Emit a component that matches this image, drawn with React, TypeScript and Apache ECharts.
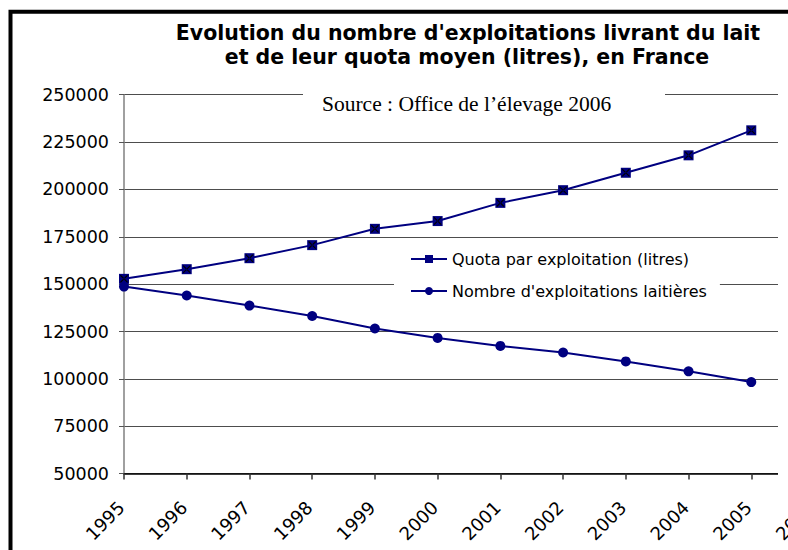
import React, { useEffect, useRef } from "react";
import * as echarts from "echarts";

const years = ["1995", "1996", "1997", "1998", "1999", "2000", "2001", "2002", "2003", "2004", "2005", "2006"];
const quotaParExploitation = [152800, 157900, 163700, 170600, 179200, 183300, 192900, 199600, 208800, 218000, 231200, null];
const nombreExploitations = [148700, 144000, 138700, 133200, 126600, 121600, 117400, 113900, 109200, 104000, 98300, null];
const yMin = 50000;
const yMax = 250000;
const yInterval = 25000;

const titleLines = [
  "Evolution du nombre d'exploitations livrant du lait",
  "et de leur quota moyen (litres), en France",
];
const sourceText = "Source : Office de l\u2019élevage 2006";
const seriesNames = ["Quota par exploitation (litres)", "Nombre d'exploitations laitières"];

const NAVY = "#000080";
const SANS = "DejaVu Sans";

export default function App() {
  const ref = useRef<HTMLDivElement>(null);
  useEffect(() => {
    if (!ref.current) return;
    const chart = echarts.init(ref.current, null, { renderer: "svg" });
    chart.setOption({
      animation: false,
      backgroundColor: "#fff",
      grid: {
        left: 124,
        top: 94.7,
        width: 690,
        height: 378.9,
        containLabel: false,
        outerBoundsMode: "none",
      },
      xAxis: {
        type: "category",
        data: years,
        boundaryGap: false,
        axisLine: { lineStyle: { color: "#000", width: 1.5 } },
        axisTick: { show: true, length: 6, alignWithLabel: true, lineStyle: { color: "#333", width: 1.5 } },
        axisLabel: {
          rotate: 45,
          margin: 28,
          padding: [0, 4, 0, 0],
          fontFamily: SANS,
          fontSize: 18,
          color: "#000",
          interval: 0,
          hideOverlap: false,
        },
        splitLine: { show: false },
      },
      yAxis: {
        type: "value",
        min: yMin,
        max: yMax,
        interval: yInterval,
        axisLine: { show: true, lineStyle: { color: "#808080", width: 1.5 } },
        axisTick: { show: true, length: 5, lineStyle: { color: "#555" } },
        axisLabel: {
          margin: 15,
          fontFamily: SANS,
          fontSize: 17.5,
          color: "#000",
          formatter: (v: number) => String(v),
        },
        splitLine: { show: true, lineStyle: { color: "#4d4d4d", width: 1 } },
      },
      legend: {
        data: seriesNames,
        orient: "vertical",
        left: 394,
        top: 242,
        padding: [8, 13, 4, 16],
        itemGap: 14,
        itemWidth: 36,
        itemHeight: 10,
        backgroundColor: "#fff",
        textStyle: { fontFamily: SANS, fontSize: 16, color: "#000", lineHeight: 18 },
      },
      series: [
        {
          name: seriesNames[0],
          type: "line",
          data: quotaParExploitation,
          symbol: "rect",
          symbolSize: 10,
          color: NAVY,
          itemStyle: { color: NAVY },
          lineStyle: { color: NAVY, width: 2 },
          z: 3,
        },
        {
          name: seriesNames[1],
          type: "line",
          data: nombreExploitations,
          symbol: "circle",
          symbolSize: 10,
          color: NAVY,
          itemStyle: { color: NAVY },
          lineStyle: { color: NAVY, width: 2 },
          z: 3,
        },
        {
          name: "quotaCross",
          type: "line",
          data: quotaParExploitation,
          symbol: "path://M0,1 L1,0 L10,9 L9,10 Z M9,0 L0,9 L1,10 L10,1 Z",
          symbolSize: 8,
          itemStyle: { color: "#000" },
          lineStyle: { width: 0, opacity: 0 },
          silent: true,
          z: 4,
        },
      ],
      graphic: [
        { type: "rect", z: 100, shape: { x: 303, y: 86, width: 362, height: 32 }, style: { fill: "#fff" } },
        { type: "rect", z: 100, shape: { x: 778, y: 84, width: 20, height: 396 }, style: { fill: "#fff" } },
        {
          type: "text",
          z: 101,
          x: 322,
          y: 103.5,
          style: { text: sourceText, font: "21.5px 'Liberation Serif'", fill: "#000", textAlign: "left", textVerticalAlign: "middle" },
        },
        {
          type: "text",
          z: 101,
          x: 468,
          y: 33,
          style: { text: titleLines[0], font: "bold 20.5px 'DejaVu Sans'", fill: "#000", textAlign: "center", textVerticalAlign: "middle" },
        },
        {
          type: "text",
          z: 101,
          x: 467,
          y: 57,
          style: { text: titleLines[1], font: "bold 20.5px 'DejaVu Sans'", fill: "#000", textAlign: "center", textVerticalAlign: "middle" },
        },
        {
          type: "rect",
          z: 102,
          shape: { x: 10.5, y: 11.7, width: 900, height: 700 },
          style: { fill: "none", stroke: "#000", lineWidth: 4 },
        },
      ],
    });
    return () => chart.dispose();
  }, []);
  return <div ref={ref} style={{ position: "fixed", left: 0, top: 0, width: 788, height: 550 }} />;
}
